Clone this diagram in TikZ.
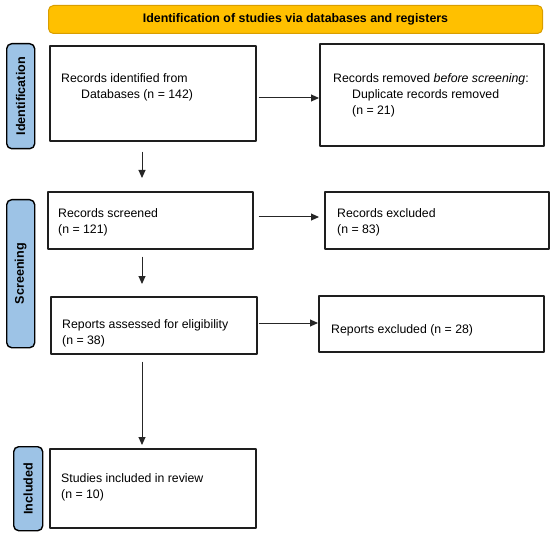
\documentclass[tikz,border=0pt]{standalone}
\usepackage{fontspec}
\setmainfont{Liberation Sans}
\usetikzlibrary{arrows.meta}
\definecolor{bannerfill}{HTML}{FFC000}
\definecolor{bannerline}{HTML}{D99E00}
\definecolor{stagefill}{HTML}{9DC3E6}
\definecolor{boxline}{HTML}{1E1E1E}
\tikzset{
  box/.style={draw=boxline, line width=1.7pt, anchor=north west, inner sep=0pt},
  stage/.style={draw=black, fill=stagefill, line width=1.4pt, rounded corners=5pt, anchor=north west, inner sep=0pt},
  stagetext/.style={rotate=90, font=\fontsize{12.6}{14}\selectfont\bfseries},
  banner/.style={draw=bannerline, fill=bannerfill, line width=1pt, rounded corners=5pt, anchor=north west, inner sep=0pt, font=\fontsize{12.4}{14}\selectfont\bfseries},
  txt/.style={anchor=west, align=left, inner sep=0pt, font=\fontsize{12.3}{16}\selectfont},
  arr/.style={-{Triangle[length=8pt,width=7pt]}, line width=1pt, draw=black!85}
}
\begin{document}
\begin{tikzpicture}[x=1pt, y=-1pt, line join=round]
  \useasboundingbox (0,0) rectangle (550,535);
  \node[banner, minimum width=494pt, minimum height=28pt] (ban) at (48,5) {Identification of studies via databases and registers};

  \node[stage, minimum width=28pt, minimum height=105pt] (st1) at (6,43) {};
  \node[stage, minimum width=28pt, minimum height=148pt] (st2) at (6,199) {};
  \node[stage, minimum width=29pt, minimum height=84pt] (st3) at (13,446) {};
  \node[stagetext] (st1t) at (st1.center) {Identification};
  \node[stagetext] (st2t) at (st2.center) {Screening};
  \node[stagetext] (st3t) at (st3.center) {Included};

  \node[box, minimum width=206pt, minimum height=95pt] (ident) at (49,45) {};
  \node[box, minimum width=224pt, minimum height=102pt] (dupl) at (319,43) {};
  \node[box, minimum width=205pt, minimum height=57pt] (scrn) at (47,191) {};
  \node[box, minimum width=224pt, minimum height=57pt] (excl) at (324,191) {};
  \node[box, minimum width=206pt, minimum height=57pt] (elig) at (50,296) {};
  \node[box, minimum width=225pt, minimum height=56pt] (rexc) at (318,295) {};
  \node[box, minimum width=206pt, minimum height=79pt] (incl) at (49,448) {};

  \node[txt] (identt) at (61,87) {Records identified from\\\hspace*{20pt}Databases (n = 142)};
  \node[txt] (duplt) at (333,95) {Records removed \textit{before screening}:\\\hspace*{19pt}Duplicate records removed\\\hspace*{19pt}(n = 21)};
  \node[txt] (scrnt) at (58,222) {Records screened\\(n = 121)};
  \node[txt] (exclt) at (337,222) {Records excluded\\(n = 83)};
  \node[txt] (eligt) at (62,333) {Reports assessed for eligibility\\(n = 38)};
  \node[txt] (rexct) at (331,330) {Reports excluded (n = 28)};
  \node[txt] (inclt) at (61,487) {Studies included in review\\(n = 10)};

  \coordinate (col) at (142,0);
  \draw[arr] ([xshift=2pt]ident.east |- 0,98) -- (dupl.west |- 0,98);
  \draw[arr] ([xshift=5pt]scrn.east |- 0,217) -- ([xshift=-5pt]excl.west |- 0,217);
  \draw[arr] ([xshift=1pt]elig.east |- 0,323) -- (rexc.west |- 0,323);
  \draw[arr] ([yshift=-10pt]col |- ident.south) -- ([yshift=13pt]col |- scrn.north);
  \draw[arr] ([yshift=-7pt]col |- scrn.south) -- ([yshift=12pt]col |- elig.north);
  \draw[arr] ([yshift=-7pt]col |- elig.south) -- ([yshift=3pt]col |- incl.north);
\end{tikzpicture}
\end{document}
